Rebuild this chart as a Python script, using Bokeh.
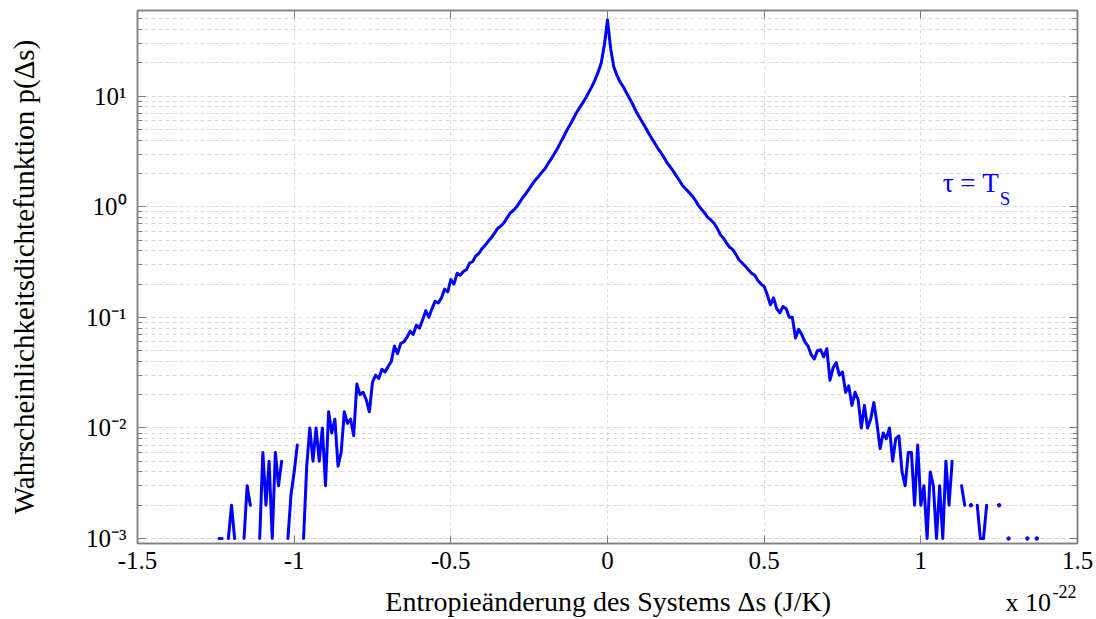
import numpy as np
from bokeh.plotting import figure
from bokeh.layouts import column
from bokeh.models import (FixedTicker, Label, LinearAxis, LogAxis, Range1d, ColumnDataSource,
                          CustomJSTickFormatter)
from bokeh.embed import file_html
from bokeh.resources import INLINE

NA = float("nan")
BIN = 0.01  # bin width (units of 1e-22 J/K)

# p(Δs) for Δs = 0.00, +0.01, +0.02, ...
p_pos = [49,
         27, 18.5, 15.5, 13.5, 12.2, 10.8, 9.6, 8.5, 7.4, 6.6,
         5.9, 5.3, 4.7, 4.2, 3.8, 3.4, 3.1, 2.8, 2.5, 2.3,
         2.1, 1.9, 1.72, 1.55, 1.45, 1.35, 1.26, 1.15, 1.03, 0.95,
         0.88, 0.8, 0.76, 0.71, 0.64, 0.56, 0.52, 0.47, 0.43, 0.41,
         0.37, 0.33, 0.31, 0.29, 0.27, 0.25, 0.24, 0.215, 0.20, 0.19,
         0.16, 0.13, 0.15, 0.12, 0.11, 0.125, 0.12, 0.10, 0.10, 0.065,
         0.078, 0.07, 0.06, 0.055, 0.046, 0.042, 0.05, 0.051, 0.044, 0.052,
         0.027, 0.035, 0.039, 0.03, 0.032, 0.021, 0.024, 0.016, 0.021, 0.018,
         0.010, 0.016, 0.010, 0.012, 0.017, 0.011, 0.0065, 0.009, 0.008, 0.010,
         0.005, 0.008, 0.0085, 0.004, 0.003, 0.006, 0.006, 0.002, 0.007, 0.002,
         0.003, 0.001, 0.004, 0.003, 0.001, 0.003, 0.001, 0.005, 0.002, 0.005,
         NA, NA, 0.003, 0.002, NA, 0.002, NA, 0.002, 0.001, 0.001,
         0.002, NA, NA, NA, 0.002, NA, NA, 0.001, NA, NA,
         NA, NA, NA, 0.001, NA, NA, 0.001]

# p(Δs) for Δs = -0.01, -0.02, -0.03, ...
p_neg = [29, 20, 16.5, 14, 12.2, 10.8, 9.6, 8.6, 7.8, 7.0,
         6.2, 5.5, 4.9, 4.3, 3.8, 3.35, 3.0, 2.7, 2.45, 2.2,
         2.05, 1.88, 1.75, 1.6, 1.45, 1.32, 1.22, 1.1, 1.0, 0.93,
         0.88, 0.8, 0.72, 0.67, 0.64, 0.58, 0.53, 0.49, 0.45, 0.42,
         0.38, 0.36, 0.32, 0.31, 0.27, 0.26, 0.24, 0.25, 0.2, 0.22,
         0.17, 0.18, 0.15, 0.135, 0.14, 0.12, 0.1, 0.115, 0.095, 0.08,
         0.085, 0.07, 0.075, 0.066, 0.06, 0.058, 0.047, 0.055, 0.04, 0.036,
         0.032, 0.034, 0.028, 0.03, 0.026, 0.014, 0.018, 0.021, 0.02, 0.025,
         0.0085, 0.012, 0.011, 0.014, 0.006, 0.0045, 0.012, 0.009, 0.014, 0.003,
         0.01, 0.005, 0.01, 0.005, 0.01, 0.0045, 0.001, NA, 0.007, 0.004,
         0.0025, 0.001, NA, 0.005, 0.003, 0.006, 0.001, 0.005, 0.002, 0.006,
         0.001, NA, NA, 0.002, 0.003, 0.001, NA, NA, 0.001, 0.002,
         0.001, NA, 0.001, 0.001]

x_ticks = [-1.5, -1, -0.5, 0, 0.5, 1, 1.5]
x_tick_labels = ["-1.5", "-1", "-0.5", "0", "0.5", "1", "1.5"]
y_tick_vals = [1e-3, 1e-2, 1e-1, 1, 10]
y_tick_labels = ["10⁻³", "10⁻²", "10⁻¹", "10⁰", "10¹"]
y_minor = [m * 10.0 ** d for d in range(-3, 2) for m in range(2, 10)]

x_title = "Entropieänderung des Systems Δs (J/K)"
y_title = "Wahrscheinlichkeitsdichtefunktion p(Δs)"
annot_main, annot_sub = "τ = T", "S"
mult_main, mult_exp = "x 10", "-22"

# ---------- build series ----------
x_pos = np.round(np.arange(len(p_pos)) * BIN, 2)
x_neg = -np.round((np.arange(len(p_neg)) + 1) * BIN, 2)
xs = np.concatenate([x_neg[::-1], x_pos])
ys = np.concatenate([np.array(p_neg, float)[::-1], np.array(p_pos, float)])

fin = np.isfinite(ys)
left_ok = np.r_[False, fin[:-1]]
right_ok = np.r_[fin[1:], False]
iso = fin & ~left_ok & ~right_ok

FONT = "Liberation Serif"
GRID = "#d9d9d9"
FRAME = "#7f7f7f"
BLUE = "#0000ff"
Y0, Y1 = 10 ** -3.045, 10 ** 1.775
W = 1096
ML, MR = 137, 19
H_MAIN, H_FOOT = 583, 36

p = figure(width=W, height=H_MAIN, y_axis_type="log",
           x_range=Range1d(-1.5, 1.5), y_range=Range1d(Y0, Y1),
           output_backend="svg", toolbar_location=None,
           min_border_left=ML, min_border_right=MR, min_border_top=10, min_border_bottom=40)
p.background_fill_color = "white"
p.border_fill_color = "white"
p.outline_line_color = FRAME
p.outline_line_width = 1.5

xt = FixedTicker(ticks=x_ticks, minor_ticks=[])
yt = FixedTicker(ticks=y_tick_vals, minor_ticks=y_minor)

xa = p.below[0]
ya = p.left[0]
xa.ticker = xt
ya.ticker = yt
xa.major_label_overrides = {float(v): s for v, s in zip(x_ticks, x_tick_labels)}
xa.major_label_text_font = FONT
xa.major_label_text_font_size = "25px"
xa.major_label_text_color = "black"
xa.major_label_standoff = 8

ya.major_label_overrides = {float(v): s for v, s in zip(y_tick_vals, y_tick_labels)}
ya.major_label_text_font = FONT
ya.major_label_text_font_size = "25px"
ya.major_label_text_color = "black"
ya.major_label_standoff = 11
ya.axis_label = y_title
ya.axis_label_text_font = FONT
ya.axis_label_text_font_size = "29px"
ya.axis_label_text_font_style = "normal"
ya.axis_label_text_color = "black"
ya.axis_label_standoff = 43

top = LinearAxis(ticker=xt, formatter=CustomJSTickFormatter(code="return ''"), major_label_standoff=0)
right = LogAxis(ticker=yt, formatter=CustomJSTickFormatter(code="return ''"), major_label_standoff=0)
p.add_layout(top, "above")
p.add_layout(right, "right")

for ax in (xa, ya, top, right):
    ax.axis_line_color = FRAME
    ax.axis_line_width = 1.5
    ax.major_tick_line_color = FRAME
    ax.minor_tick_line_color = FRAME
    ax.major_tick_in = 8
    ax.major_tick_out = 0
    ax.minor_tick_in = 5
    ax.minor_tick_out = 0

p.xgrid.grid_line_color = GRID
p.xgrid.grid_line_dash = "3 3"
p.ygrid.grid_line_color = GRID
p.ygrid.grid_line_dash = "4 3"
p.ygrid.minor_grid_line_color = GRID
p.ygrid.minor_grid_line_dash = "4 3"

src = ColumnDataSource(dict(x=xs, y=ys))
p.line("x", "y", source=src, line_color=BLUE, line_width=3, line_join="round", line_cap="round")
p.scatter(xs[iso], ys[iso], marker="circle", size=3.5, color=BLUE)

# annotation τ = T_S
p.add_layout(Label(x=1.07, y=1.64, text=annot_main, text_align="left", text_baseline="middle",
                   text_font=FONT, text_font_size="27px", text_color=BLUE))
p.add_layout(Label(x=1.07, y=1.64, x_offset=57, y_offset=-15, text=annot_sub, text_align="left",
                   text_baseline="middle", text_font=FONT, text_font_size="19px", text_color=BLUE))

# ---------- footer strip (frame is aligned with the main plot's frame by the column layout) ----------
foot = figure(width=W, height=H_FOOT, output_backend="svg", toolbar_location=None,
              x_range=Range1d(-1.5, 1.5), y_range=Range1d(0, H_FOOT),
              min_border=0, min_border_left=ML, min_border_right=MR, min_border_top=0, min_border_bottom=0)
foot.axis.visible = False
foot.grid.visible = False
foot.outline_line_color = None
foot.background_fill_color = "white"
foot.border_fill_color = "white"

foot.add_layout(Label(x=-0.709, y=18, text=x_title, text_align="left", text_baseline="middle",
                      text_font=FONT, text_font_size="28px", text_color="black"))
foot.add_layout(Label(x=1.27, y=17, text=mult_main, text_align="left", text_baseline="middle",
                      text_font=FONT, text_font_size="26px", text_color="black"))
foot.add_layout(Label(x=1.27, y=17, x_offset=47, y_offset=11, text=mult_exp, text_align="left",
                      text_baseline="middle", text_font=FONT, text_font_size="18px", text_color="black"))

layout = column(p, foot, spacing=0)
open("out.html", "w").write(file_html(layout, INLINE))
